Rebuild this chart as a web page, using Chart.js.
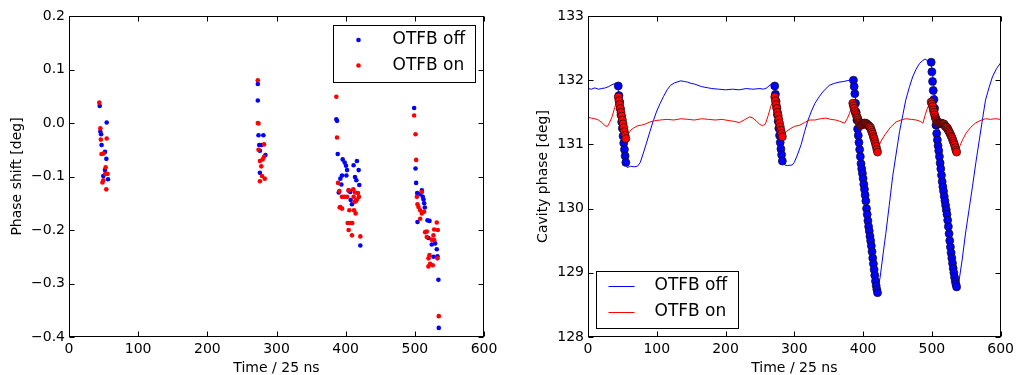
<!DOCTYPE html>
<html>
<head>
<meta charset="utf-8">
<script src="https://cdn.jsdelivr.net/npm/chart.js@4/dist/chart.umd.min.js"></script>
<style>
  body { margin: 0; background: #fff; }
  #wrap { position: relative; width: 1018px; height: 375px; }
  .box { position: absolute; top: 0; width: 509px; height: 375px; }
</style>
</head>
<body>
<div id="wrap">
  <div class="box" style="left:0"><canvas id="phaseChart" width="509" height="375"></canvas></div>
  <div class="box" style="left:509px"><canvas id="cavityChart" width="509" height="375"></canvas></div>
</div>
<script>
// tick labels
const timeTicks = [0, 100, 200, 300, 400, 500, 600]
const phaseTicks = [-0.4, -0.3, -0.2, -0.1, 0.0, 0.1, 0.2]
const cavityTicks = [128, 129, 130, 131, 132, 133]
const seriesNames = ['OTFB off', 'OTFB on']

// left: phase shift per bunch
const phaseOffX = [44.4, 45.3, 46.4, 47.1, 52, 54, 54.5, 52, 49.6, 56.4,
  273, 273, 274, 281, 275, 278, 276, 284, 276,
  386.5, 387.5, 388.5, 395.7, 398.6, 400.5, 402, 394.7, 392.3, 393.8, 390, 401, 404.3, 406.7,
  411.5, 416.3, 413.5, 415.4, 418.8, 419.7, 407.2, 409.1, 421.2,
  499, 501, 501.9, 503.4, 507.7, 510.1, 511.5, 512.5, 513.5, 514.4, 503.8, 518.3, 521.2,
  519.7, 524.5, 529.3, 531.7, 526.9, 532.7, 534.1, 534.6]
const phaseOffY = [0.032, -0.016, -0.021, -0.041, -0.054, -0.067, 0.001, -0.088, -0.099, -0.105,
  0.073, 0.042, -0.023, -0.023, -0.041, -0.041, -0.052, -0.060, -0.093,
  0.007, 0.004, -0.058, -0.068, -0.074, -0.080, -0.088, -0.098, -0.104, -0.115, -0.130, -0.098, -0.126, -0.129,
  -0.079, -0.071, -0.101, -0.107, -0.088, -0.116, -0.144, -0.152, -0.229,
  0.028, -0.085, -0.112, -0.131, -0.133, -0.126, -0.138, -0.143, -0.150, -0.158, -0.185, -0.182, -0.183,
  -0.215, -0.227, -0.225, -0.236, -0.250, -0.249, -0.293, -0.383]
const phaseOnX = [43.8, 45.3, 46, 54.5, 47, 49.8, 53, 52.5, 55.8, 49.6, 48.4, 53.9,
  273, 273, 274, 282, 274, 282, 280, 276, 278, 279, 283, 276,
  386.5, 387.5, 389, 390.9, 394.7, 398, 402, 404.3, 411, 413.5, 417.8, 419.2, 416.3, 414.9, 413,
  391.3, 394.7, 392.3, 405.3, 412, 414.4, 402.9, 406.7, 409.6, 404.3, 409.1, 421.2, 411.5,
  499, 501, 501.9, 502.9, 503.8, 510.1, 505.3, 507.7, 510.1, 513.5, 507.7, 514.9, 517.3, 517.3,
  524.5, 527.9, 526.9, 531.7, 527.9, 533.2, 521.2, 519.7, 522.1, 519.7, 525.9, 532.7, 534.6]
const phaseOnY = [0.038, -0.010, -0.031, -0.029, -0.058, -0.057, -0.083, -0.095, -0.095, -0.107, -0.111, -0.124,
  0.080, 0.000, -0.001, -0.040, -0.050, -0.063, -0.068, -0.071, -0.081, -0.099, -0.104, -0.109,
  0.049, -0.027, -0.112, -0.127, -0.138, -0.138, -0.138, -0.126, -0.124, -0.130, -0.131, -0.138, -0.143, -0.146, -0.147,
  -0.158, -0.160, -0.157, -0.163, -0.163, -0.169, -0.187, -0.187, -0.187, -0.200, -0.210, -0.212, -0.138,
  0.014, -0.021, -0.069, -0.138, -0.152, -0.129, -0.157, -0.163, -0.169, -0.166, -0.179, -0.204, -0.203, -0.213,
  -0.218, -0.219, -0.210, -0.186, -0.199, -0.200, -0.247, -0.253, -0.263, -0.268, -0.266, -0.253, -0.361]

// right: cavity phase traces
const cavOffX = [0, 5, 10, 15, 20, 25, 30, 35, 40, 43.5, 55, 57, 62, 67, 72, 76, 80, 85, 90, 95,
  100, 105, 110, 115, 120, 126, 135, 140, 145, 150, 155, 160, 165, 170, 175, 180, 190, 200, 210,
  220, 230, 240, 250, 255, 260, 265, 271.5, 282.6, 286, 290, 297, 300, 305, 310, 315, 320, 325,
  330, 336, 340, 345, 351, 358, 365, 372, 380, 386, 421, 425, 430, 433, 438, 443, 448, 453, 458,
  462, 467, 472, 477, 482, 486, 490, 494, 499, 536, 539.6, 544, 549, 554, 559, 564, 569, 574,
  578, 583, 588, 594, 600]
const cavOffY = [131.87, 131.86, 131.88, 131.86, 131.87, 131.88, 131.90, 131.93, 131.95, 131.91, 130.72, 130.64, 130.66, 130.65, 130.66, 130.72, 130.85, 131.02, 131.20, 131.37,
  131.52, 131.64, 131.75, 131.85, 131.92, 131.96, 131.99, 131.98, 131.97, 131.95, 131.94, 131.92, 131.90, 131.89, 131.88, 131.87, 131.86, 131.85, 131.86,
  131.85, 131.87, 131.86, 131.87, 131.86, 131.88, 131.93, 131.91, 130.74, 130.68, 130.67, 130.68, 130.72, 130.85, 131.00, 131.20, 131.38, 131.52,
  131.64, 131.74, 131.80, 131.86, 131.92, 131.95, 131.97, 131.98, 132.00, 132.00, 128.69, 128.95, 129.37, 129.61, 130.05, 130.50, 130.85, 131.20, 131.47,
  131.69, 131.88, 132.05, 132.17, 132.26, 132.30, 132.33, 132.30, 132.28, 128.78, 128.88, 129.20, 129.62, 129.98, 130.34, 130.72, 131.07, 131.42,
  131.69, 131.88, 132.05, 132.18, 132.27]
const cavOnX = [0, 5, 10, 15, 20, 25, 28, 31, 35, 39, 44, 55, 58, 62, 67, 72, 78, 84, 90, 97,
  105, 115, 125, 135, 145, 155, 165, 175, 185, 195, 205, 212, 220, 227, 235, 240, 245, 250, 254,
  258, 262, 266, 271.5, 282.6, 288, 295, 300, 308, 315, 322, 330, 338, 346, 353, 360, 366, 373,
  377, 380, 385, 395, 404, 411, 421, 422, 427, 433, 440, 448, 455, 462, 470, 477, 483, 487, 490,
  494, 499, 505, 513, 520, 536, 540, 545, 550, 556, 563, 570, 578, 585, 592, 600]
const cavOnY = [131.42, 131.41, 131.40, 131.38, 131.34, 131.29, 131.28, 131.33, 131.43, 131.58, 131.74, 131.09, 131.15, 131.22, 131.26, 131.29, 131.30, 131.32, 131.35, 131.37,
  131.38, 131.39, 131.38, 131.40, 131.39, 131.38, 131.40, 131.39, 131.38, 131.39, 131.37, 131.36, 131.34, 131.38, 131.43, 131.41, 131.36, 131.31, 131.29,
  131.32, 131.45, 131.60, 131.74, 131.12, 131.20, 131.25, 131.28, 131.30, 131.34, 131.38, 131.38, 131.40, 131.41, 131.39, 131.38, 131.36, 131.33,
  131.40, 131.48, 131.64, 131.33, 131.33, 131.25, 130.88, 130.96, 131.07, 131.17, 131.27, 131.35, 131.38, 131.40, 131.39, 131.38, 131.36, 131.33, 131.45,
  131.58, 131.66, 131.42, 131.33, 131.28, 130.88, 130.96, 131.08, 131.18, 131.26, 131.33, 131.37, 131.40, 131.39, 131.40, 131.39]

// right: sampled bunch positions (circles)
const rampOffX = [44, 45, 46, 47, 48, 49, 50, 51, 52, 53, 54, 55,
  271.5, 272.5, 273.5, 274.5, 275.5, 276.5, 277.5, 278.5, 279.5, 280.5, 281.5, 282.6,
  386, 387, 388, 389, 390, 391, 392, 393, 394, 395, 396, 397, 398, 399, 400, 401, 402, 403,
  404, 405, 406, 407, 408, 409, 410, 411, 412, 413, 414, 415, 416, 417, 418, 419, 420, 421,
  499, 500, 501, 502, 503, 504, 505, 506, 507, 508, 509, 510, 511, 512, 513, 514, 515, 516, 517,
  518, 519, 520, 521, 522, 523, 524, 525, 526, 527, 528, 529, 530, 531, 532, 533, 534, 535, 536]
const rampOffY = [131.91, 131.76, 131.66, 131.56, 131.46, 131.35, 131.25, 131.13, 131.02, 130.92, 130.82, 130.72,
  131.91, 131.78, 131.67, 131.57, 131.46, 131.36, 131.25, 131.14, 131.03, 130.93, 130.84, 130.74,
  132.00, 131.90, 131.79, 131.64, 131.50, 131.38, 131.24, 131.14, 131.03, 130.92, 130.81, 130.70, 130.62, 130.55, 130.47, 130.38, 130.30, 130.21,
  130.12, 130.00, 129.91, 129.81, 129.72, 129.65, 129.57, 129.50, 129.42, 129.33, 129.23, 129.14, 129.05, 128.96, 128.87, 128.80, 128.74, 128.69,
  132.28, 132.13, 131.98, 131.84, 131.70, 131.56, 131.43, 131.30, 131.17, 131.07, 130.98, 130.90, 130.81, 130.71, 130.62, 130.52, 130.42, 130.34, 130.27,
  130.19, 130.12, 130.05, 129.98, 129.91, 129.82, 129.72, 129.61, 129.50, 129.40, 129.31, 129.23, 129.15, 129.07, 129.00, 128.93, 128.87, 128.82, 128.78]
const rampOnX = [44, 45, 46, 47, 48, 49, 50, 51, 52, 53, 54, 55,
  271.5, 272.5, 273.5, 274.5, 275.5, 276.5, 277.5, 278.5, 279.5, 280.5, 281.5, 282.6,
  385, 386, 387, 388, 389, 390, 391, 392, 393, 394, 395, 396, 397, 398, 399, 400, 401, 402, 403,
  404, 405, 406, 407, 408, 409, 410, 411, 412, 413, 414, 415, 416, 417, 418, 419, 420, 421,
  499, 500, 501, 502, 503, 504, 505, 506, 507, 508, 509, 510, 511, 512, 513, 514, 515, 516, 517,
  518, 519, 520, 521, 522, 523, 524, 525, 526, 527, 528, 529, 530, 531, 532, 533, 534, 535, 536]
const rampOnY = [131.74, 131.68, 131.62, 131.56, 131.50, 131.44, 131.38, 131.32, 131.26, 131.20, 131.14, 131.09,
  131.74, 131.68, 131.62, 131.56, 131.50, 131.45, 131.39, 131.33, 131.27, 131.22, 131.17, 131.12,
  131.64, 131.60, 131.56, 131.52, 131.49, 131.46, 131.43, 131.41, 131.38, 131.35, 131.33, 131.31, 131.30, 131.30, 131.31, 131.32, 131.33, 131.33, 131.33,
  131.33, 131.32, 131.31, 131.30, 131.29, 131.28, 131.27, 131.25, 131.22, 131.19, 131.16, 131.12, 131.09, 131.05, 131.01, 130.97, 130.92, 130.88,
  131.66, 131.63, 131.59, 131.54, 131.50, 131.46, 131.42, 131.39, 131.37, 131.35, 131.34, 131.34, 131.33, 131.33, 131.33, 131.33, 131.32, 131.32, 131.32,
  131.31, 131.29, 131.28, 131.27, 131.26, 131.24, 131.22, 131.20, 131.18, 131.16, 131.13, 131.11, 131.08, 131.05, 131.02, 130.99, 130.95, 130.91, 130.88]

const blue = '#0000ff'
const red = '#ff0000'
const fontFamily = '"DejaVu Sans", sans-serif'

function zip(xs, ys) {
    return xs.map((x, i) => ({ x: x, y: ys[i] }))
}

function minusFmt(v, digits) {
    let s = Math.abs(v).toFixed(digits)
    return (v < -1e-9 ? '\u2212' : '') + s
}

// box around the plot + inward ticks on all four sides (matplotlib look)
const framePlugin = {
    id: 'frame',
    afterDatasetsDraw(chart) {
        const { ctx, chartArea: a, scales } = chart
        ctx.save()
        ctx.strokeStyle = '#000'
        ctx.lineWidth = 1
        const L = Math.round(a.left) + 0.5, R = Math.round(a.right) - 0.5
        const T = Math.round(a.top) + 0.5, B = Math.round(a.bottom) - 0.5
        ctx.beginPath()
        scales.x.ticks.forEach(t => {
            let px = Math.round(scales.x.getPixelForValue(t.value)) + 0.5
            ctx.moveTo(px, B); ctx.lineTo(px, B - 5)
            ctx.moveTo(px, T); ctx.lineTo(px, T + 5)
        })
        scales.y.ticks.forEach(t => {
            let py = Math.round(scales.y.getPixelForValue(t.value)) + 0.5
            ctx.moveTo(L, py); ctx.lineTo(L + 5, py)
            ctx.moveTo(R, py); ctx.lineTo(R - 5, py)
        })
        ctx.stroke()
        ctx.strokeRect(L, T, R - L, B - T)
        ctx.restore()
    }
}

// legend boxes drawn inside the plot area
function legendPlugin(where, kind) {
    return {
        id: 'innerLegend',
        afterDraw(chart) {
            const { ctx, chartArea: a } = chart
            const w = 142, h = 57
            let left, top
            if (where == 'topright') { left = a.right - 9 - w; top = a.top + 9 }
            else { left = a.left + 8; top = a.bottom - 9 - h }
            left = Math.round(left) + 0.5; top = Math.round(top) + 0.5
            ctx.save()
            ctx.fillStyle = '#fff'
            ctx.fillRect(left, top, w, h)
            ctx.strokeStyle = '#000'
            ctx.lineWidth = 1
            ctx.strokeRect(left, top, w, h)
            const colors = [blue, red]
            ctx.font = '17px ' + fontFamily
            ctx.textBaseline = 'middle'
            for (let i = 0; i < 2; i++) {
                let cy = top + 14.5 + i * 25.5
                if (kind == 'dot') {
                    ctx.fillStyle = colors[i]
                    ctx.beginPath()
                    ctx.arc(left + 25, cy, 2.3, 0, Math.PI * 2)
                    ctx.fill()
                    ctx.fillStyle = '#000'
                    ctx.fillText(seriesNames[i], left + 59, cy)
                } else {
                    ctx.strokeStyle = colors[i]
                    ctx.beginPath()
                    ctx.moveTo(left + 12, Math.round(cy) + 0.5)
                    ctx.lineTo(left + 38, Math.round(cy) + 0.5)
                    ctx.stroke()
                    ctx.fillStyle = '#000'
                    ctx.fillText(seriesNames[i], left + 58, cy)
                }
            }
            ctx.restore()
        }
    }
}

function axes(yTicks, yMin, yMax, yTitle, yWidth, yTitlePad, digits) {
    return {
        x: {
            type: 'linear', min: 0, max: 600,
            afterBuildTicks: s => { s.ticks = timeTicks.map(v => ({ value: v })) },
            afterFit: s => { s.height = 38 },
            grid: { display: false, drawTicks: false },
            border: { display: false },
            ticks: { color: '#000', padding: 4, font: { family: fontFamily, size: 14 }, maxRotation: 0 },
            title: { display: true, text: 'Time / 25 ns', color: '#000', padding: 0,
                font: { family: fontFamily, size: 14, lineHeight: 1 } }
        },
        y: {
            type: 'linear', min: yMin, max: yMax,
            afterBuildTicks: s => { s.ticks = yTicks.map(v => ({ value: v })) },
            afterFit: s => { s.width = yWidth },
            grid: { display: false, drawTicks: false },
            border: { display: false },
            ticks: { color: '#000', padding: 4, font: { family: fontFamily, size: 14 },
                callback: v => minusFmt(v, digits) },
            title: { display: true, text: yTitle, color: '#000', padding: { top: yTitlePad, bottom: 0 },
                font: { family: fontFamily, size: 14 } }
        }
    }
}

const phaseConfig = {
    type: 'scatter',
    data: {
        datasets: [
            { label: seriesNames[0], data: zip(phaseOffX, phaseOffY), backgroundColor: blue,
              pointRadius: 2.3, pointBorderWidth: 0, order: 2 },
            { label: seriesNames[1], data: zip(phaseOnX, phaseOnY), backgroundColor: red,
              pointRadius: 2.3, pointBorderWidth: 0, order: 1 }
        ]
    },
    options: {
        responsive: false,
        animation: false,
        events: [],
        layout: { padding: { top: 16, right: 25, left: 0, bottom: 0 } },
        plugins: { legend: { display: false }, tooltip: { enabled: false } },
        scales: axes(phaseTicks, -0.4, 0.2, 'Phase shift [deg]', 69, 9, 1)
    },
    plugins: [framePlugin, legendPlugin('topright', 'dot')]
}

const cavityConfig = {
    type: 'scatter',
    data: {
        datasets: [
            { label: seriesNames[0], data: zip(cavOffX, cavOffY), showLine: true, borderColor: blue,
              borderWidth: 1, pointRadius: 0, order: 4 },
            { label: seriesNames[1], data: zip(cavOnX, cavOnY), showLine: true, borderColor: red,
              borderWidth: 1, pointRadius: 0, order: 3 },
            { data: zip(rampOffX, rampOffY), backgroundColor: blue, borderColor: '#111',
              pointRadius: 4, pointBorderWidth: 0.7, order: 2 },
            { data: zip(rampOnX, rampOnY), backgroundColor: red, borderColor: '#111',
              pointRadius: 4, pointBorderWidth: 0.7, order: 1 }
        ]
    },
    options: {
        responsive: false,
        animation: false,
        events: [],
        layout: { padding: { top: 16, right: 16, left: 0, bottom: 0 } },
        plugins: { legend: { display: false }, tooltip: { enabled: false } },
        scales: axes(cavityTicks, 128, 133, 'Cavity phase [deg]', 79, 25.6, 0)
    },
    plugins: [framePlugin, legendPlugin('bottomleft', 'line')]
}

const phaseChart = new Chart(document.getElementById('phaseChart'), phaseConfig)
const cavityChart = new Chart(document.getElementById('cavityChart'), cavityConfig)
</script>
</body>
</html>
